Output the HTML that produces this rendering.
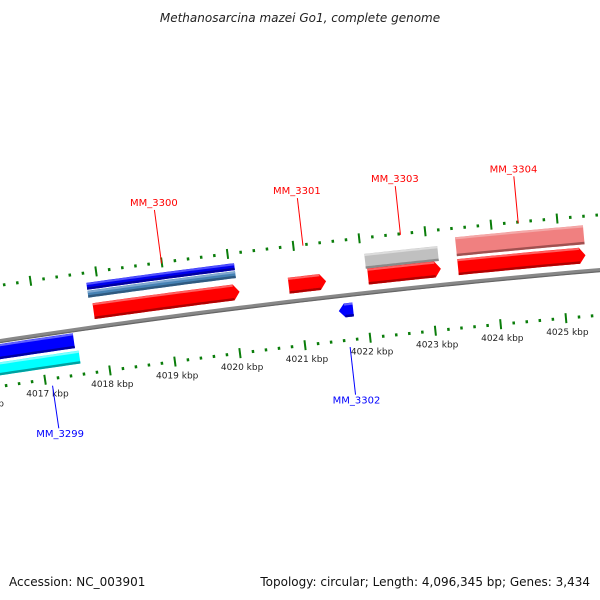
<!DOCTYPE html>
<html><head><meta charset="utf-8">
<style>
html,body{margin:0;padding:0;background:#fff;}
svg{display:block;font-family:"DejaVu Sans","Liberation Sans",sans-serif;}
</style></head>
<body>
<svg id="chart" width="600" height="600" viewBox="0 0 600 600" xmlns="http://www.w3.org/2000/svg">
<text x="300" y="22" text-anchor="middle" font-size="12" font-style="italic" fill="#222">Methanosarcina mazei Go1, complete genome</text>
<text x="9" y="586" font-size="12" fill="#111">Accession: NC_003901</text>
<text x="590" y="586" text-anchor="end" font-size="12" fill="#111">Topology: circular; Length: 4,096,345 bp; Genes: 3,434</text>
<g id="plot"></g>
</svg>
<script>
// ---- data (kbp) ----
const tickKbp = [4016, 4017, 4018, 4019, 4020, 4021, 4022, 4023, 4024, 4025, 4026];
const tickLabels = ["4016 kbp","4017 kbp","4018 kbp","4019 kbp","4020 kbp","4021 kbp","4022 kbp","4023 kbp","4024 kbp","4025 kbp","4026 kbp"];
// forward (upper) features: [start, end]
const geneNames = ["MM_3299","MM_3300","MM_3301","MM_3302","MM_3303","MM_3304"];
const geneStart = [4015.3, 4017.88, 4020.86, 4021.57, 4022.07, 4023.44];
const geneEnd   = [4017.52, 4020.11, 4021.43, 4021.79, 4023.18, 4025.38];
const geneStrand = [-1, 1, 1, -1, 1, 1];
// colored annotation bars: [start, end]
const barStart = [4015.3, 4015.3, 4017.83, 4017.83, 4022.05, 4023.44];
const barEnd   = [4017.57, 4017.52, 4020.08, 4020.08, 4023.16, 4025.38];

// ---- geometry (styles / layout only) ----
const P0=[0,341], P1=[600,270], sag=5;
const L=Math.hypot(P1[0]-P0[0],P1[1]-P0[1]);
const R=L*L/(8*sag)+sag/2;
const ux=(P1[0]-P0[0])/L, uy=(P1[1]-P0[1])/L;
const nx=-uy, ny=ux; // points downward (toward center)
const mx=(P0[0]+P1[0])/2, my=(P0[1]+P1[1])/2;
const cx=mx+nx*(R-sag), cy=my+ny*(R-sag);
const th0=Math.atan2(P0[1]-cy,P0[0]-cx);
function sOf(k){return 38.9+(k-4017)*65.9;}
function pt(k,off){const th=th0+sOf(k)/R;const r=R+off;return [cx+r*Math.cos(th),cy+r*Math.sin(th)];}
const NS="http://www.w3.org/2000/svg";
const plot=document.getElementById('plot');
function mk(tag,attrs){const e=document.createElementNS(NS,tag);for(const a in attrs)e.setAttribute(a,attrs[a]);plot.appendChild(e);return e;}
function arcPts(k1,k2,off,n){const p=[];for(let i=0;i<=n;i++){p.push(pt(k1+(k2-k1)*i/n,off));}return p;}
function band(k1,k2,o1,o2,dir,fill,dark,light){
  const tip=6/65.9;
  let a=k1,b=k2;
  if(dir===1)b=k2-tip; if(dir===-1)a=k1+tip;
  const top=arcPts(a,b,o2,24), bot=arcPts(a,b,o1,24).reverse();
  let pts=top.slice();
  if(dir===1)pts.push(pt(k2,(o1+o2)/2));
  pts=pts.concat(bot);
  if(dir===-1)pts.push(pt(k1,(o1+o2)/2));
  const d=pts.map(p=>p[0].toFixed(1)+','+p[1].toFixed(1)).join(' ');
  const g=mk('polygon',{points:d,fill:fill});
  const lo=arcPts(a,b,o1+1.2,24).map(p=>p[0].toFixed(1)+','+p[1].toFixed(1)).join(' ');
  const hi=arcPts(a,b,o2-1.2,24).map(p=>p[0].toFixed(1)+','+p[1].toFixed(1)).join(' ');
  mk('polyline',{points:lo,fill:'none',stroke:dark,'stroke-width':2.4});
  mk('polyline',{points:hi,fill:'none',stroke:light,'stroke-width':2});
  return g;
}

// backbone
let bb=arcPts(4015.5,4026.5,0,60);
let e=mk('polyline',{points:bb.map(p=>p.join(',')).join(' '),fill:'none',stroke:'#888','stroke-width':4});


e=mk('polyline',{points:arcPts(4015.5,4026.5,-1.6,60).map(p=>p.join(',')).join(' '),fill:'none',stroke:'#666','stroke-width':1.2});



// scales
[55,-45].forEach((off,si)=>{
  for(let k=4015.4;k<=4026.6;k+=0.2){
    const kr=Math.round(k*10)/10;
    const major=Math.abs(kr-Math.round(kr))<1e-6;
    const len=major?5:1.5;
    const a=pt(kr,off-len),b=pt(kr,off+len);
    const t=mk('line',{x1:a[0],y1:a[1],x2:b[0],y2:b[1],stroke:'#0a7d0a','stroke-width':major?2:2.5});
    
    
  }
});
tickKbp.forEach((k,i)=>{
  const p=pt(k,-62);
  const t=mk('text',{x:p[0].toFixed(1),y:p[1].toFixed(1),'text-anchor':'middle','font-size':'9',fill:'#222'});
  t.textContent=tickLabels[i];
  
  
});

// annotation bars
const barOff=[[-34,-21],[-18,-3],[38,45],[30,37],[24,39],[27,46]];
const barFill=['#00ffff','#0000ff','#0000ee','#4682b4','#c0c0c0','#f08080'];
const barDark=['#00a0a0','#0000a0','#0000a0','#2f5a80','#8a8a8a','#a05050'];
const barLight=['#80ffff','#6060ff','#5050ff','#7fa8d0','#dcdcdc','#f4a8a8'];
barStart.forEach((s,i)=>{
  const g=band(s,barEnd[i],barOff[i][0],barOff[i][1],0,barFill[i],barDark[i],barLight[i]);
  
  
});

// genes (strand-specific arrows), skip 3299 which is the blue bar already
const geneOff={1:[9,25],'-1':[-21,-8]};
geneStart.forEach((s,i)=>{
  if(i===0)return;
  const fwd=geneStrand[i]===1;
  const o=fwd?[8,24]:[-22,-8];
  const g=band(s,geneEnd[i],o[0],o[1],geneStrand[i],fwd?'#ff0000':'#0000ff',fwd?'#b00000':'#0000a0',fwd?'#ff6060':'#6060ff');
  
  
});

// gene labels
const labelTop=[-95,108,102,-100,103,101];
geneStart.forEach((s,i)=>{
  const fwd=geneStrand[i]===1;
  const mid=(s+geneEnd[i])/2;
  const km=i===0?4017.1:mid;
  const a=pt(km,fwd?54:-52), b=pt(km,labelTop[i]);
  const col=fwd?'#ff0000':'#0000ff';
  let l=mk('line',{x1:a[0],y1:a[1],x2:b[0],y2:b[1],stroke:col,'stroke-width':1});
  
  
  const tp=pt(km,labelTop[i]+(fwd?4:-9));
  const t=mk('text',{x:tp[0].toFixed(1),y:tp[1].toFixed(1),'text-anchor':'middle','font-size':'10',fill:col});
  t.textContent=geneNames[i];
  
  
});
</script>
</body></html>
